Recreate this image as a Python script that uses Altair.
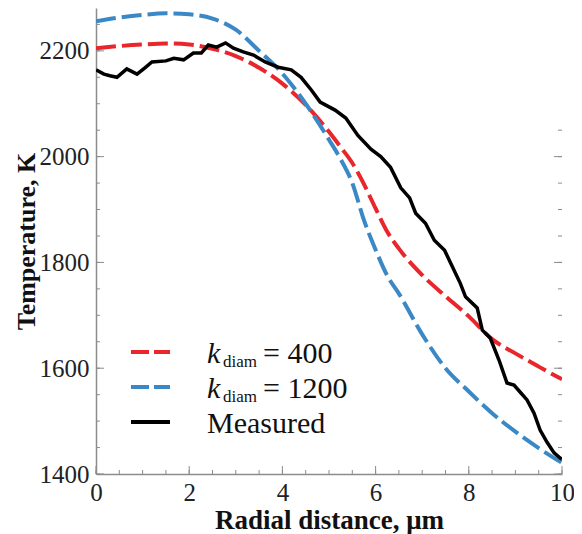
import altair as alt
import pandas as pd

# ---- data ----
k400_x = [0, 0.5, 1.0, 1.5, 2.0, 2.5, 3.0, 3.5, 4.0, 4.5, 5.0, 5.25, 5.5, 5.75, 6.0, 6.25, 6.5, 7.0, 7.5, 8.0, 8.5, 9.0, 9.5, 10]
k400_t = [2205, 2209, 2212, 2214, 2212, 2204, 2190, 2168, 2138, 2098, 2047, 2018, 1988, 1948, 1902, 1858, 1826, 1776, 1736, 1698, 1655, 1628, 1603, 1579]

k1200_x = [0, 0.5, 1.0, 1.5, 2.0, 2.5, 3.0, 3.5, 4.0, 4.5, 5.0, 5.25, 5.5, 5.75, 6.0, 6.25, 6.5, 7.0, 7.5, 8.0, 8.5, 9.0, 9.5, 10]
k1200_t = [2256, 2263, 2268, 2271, 2269, 2261, 2240, 2200, 2157, 2100, 2032, 1995, 1950, 1880, 1824, 1775, 1741, 1664, 1600, 1556, 1515, 1480, 1449, 1421]

meas_x = [0, 0.17, 0.3, 0.45, 0.66, 0.88, 1.05, 1.2, 1.5, 1.67, 1.88, 2.09, 2.26, 2.41, 2.59, 2.78, 2.95,
          3.16, 3.38, 3.63, 3.91, 4.19, 4.4, 4.62, 4.81, 5.13, 5.36, 5.62, 5.9, 6.11, 6.32, 6.54, 6.73,
          6.86, 7.07, 7.26, 7.48, 7.63, 7.82, 7.93, 8.18, 8.29, 8.46, 8.65, 8.82, 8.97, 9.1, 9.25, 9.4,
          9.53, 9.68, 9.83, 9.96, 10]
meas_t = [2164, 2156, 2153, 2150, 2166, 2156, 2168, 2179, 2181, 2186, 2183, 2196, 2196, 2211, 2207, 2215, 2205,
          2198, 2192, 2179, 2169, 2164, 2150, 2126, 2103, 2088, 2073, 2040, 2014, 2000, 1980, 1941, 1922,
          1893, 1874, 1842, 1823, 1795, 1760, 1735, 1714, 1672, 1657, 1615, 1572, 1568, 1555, 1540, 1515,
          1483, 1460, 1440, 1430, 1428]

x_labels = [0, 2, 4, 6, 8, 10]
y_labels = [1400, 1600, 1800, 2000, 2200]
x_minor = [i * 0.5 for i in range(21)]
y_minor = list(range(1400, 2251, 50))
y_right = list(range(1400, 2051, 50))

legend_labels = ["= 400", "= 1200", "Measured"]

W, H = 466, 466
FONT = "Liberation Serif"
RED = "#e8262b"
BLUE = "#3a88c5"
TICK = "#8c8c8c"

xs = alt.Scale(domain=[0, 10], nice=False)
ys = alt.Scale(domain=[1400, 2281], nice=False)

df400 = pd.DataFrame({"x": k400_x, "t": k400_t})
df1200 = pd.DataFrame({"x": k1200_x, "t": k1200_t})
dfm = pd.DataFrame({"x": meas_x, "t": meas_t})

xax = alt.Axis(values=x_labels, ticks=False, grid=False, domainColor=TICK, domainWidth=1.5, format="d",
               labelFlush=False, labelFont=FONT, labelFontSize=25, labelColor="#222", labelPadding=6,
               title="Radial distance, μm", titleFont=FONT, titleFontSize=27, titleFontWeight="bold",
               titleColor="#111", titlePadding=2)
yax = alt.Axis(values=y_labels, ticks=False, grid=False, domainColor=TICK, domainWidth=1.5, format="d",
               labelFlush=False, labelFont=FONT, labelFontSize=25, labelColor="#222", labelPadding=7,
               title="Temperature, K", titleFont=FONT, titleFontSize=26, titleFontWeight="bold",
               titleColor="#111", titlePadding=0)

base_red = alt.Chart(df400).mark_line(color=RED, strokeWidth=4, strokeDash=[20, 6], clip=True,
                                      interpolate="monotone").encode(
    x=alt.X("x:Q", scale=xs, axis=xax), y=alt.Y("t:Q", scale=ys, axis=yax))
blue = alt.Chart(df1200).mark_line(color=BLUE, strokeWidth=4, strokeDash=[20, 6], clip=True,
                                   interpolate="monotone").encode(
    x=alt.X("x:Q", scale=xs), y=alt.Y("t:Q", scale=ys))
meas = alt.Chart(dfm).mark_line(color="black", strokeWidth=3.5, clip=True).encode(
    x=alt.X("x:Q", scale=xs), y=alt.Y("t:Q", scale=ys))

# inward ticks
def xticks(vals, ln):
    return alt.Chart(pd.DataFrame({"v": vals})).mark_rule(color=TICK, strokeWidth=1).encode(
        x=alt.X("v:Q", scale=xs), y=alt.value(H), y2=alt.value(H - ln))

def yticks(vals, ln, right=False):
    x0 = W if right else 0
    x1 = W - ln if right else ln
    return alt.Chart(pd.DataFrame({"v": vals})).mark_rule(color=TICK, strokeWidth=1).encode(
        y=alt.Y("v:Q", scale=ys), x=alt.value(x0), x2=alt.value(x1))

tick_layers = [
    xticks(x_minor, 4), xticks(x_labels, 8),
    yticks(y_minor, 4), yticks(y_labels, 8),
    yticks(y_right, 4, True), yticks([v for v in y_labels if v <= 2050], 8, True),
]

one = pd.DataFrame({"a": [0]})

def leg_line(color, y, dash=None):
    kw = dict(color=color, strokeWidth=4)
    if dash:
        kw["strokeDash"] = dash
    return alt.Chart(one).mark_rule(**kw).encode(x=alt.value(35), x2=alt.value(74), y=alt.value(y))

def txt(s, x, y, size, style="normal"):
    return alt.Chart(one).mark_text(text=s, font=FONT, fontSize=size, fontStyle=style, align="left",
                                    baseline="alphabetic", color="#111").encode(
        x=alt.value(x), y=alt.value(y))

legend_layers = [
    leg_line(RED, 344, [18, 5]), leg_line(BLUE, 379, [18, 5]), leg_line("black", 414),
    txt("k", 111, 355, 30, "italic"), txt("diam", 127, 359, 17), txt(legend_labels[0], 167, 355, 30),
    txt("k", 111, 390, 30, "italic"), txt("diam", 127, 394, 17), txt(legend_labels[1], 167, 390, 30),
    txt(legend_labels[2], 111, 425, 30),
]

chart = alt.layer(base_red, blue, meas, *tick_layers, *legend_layers).properties(
    width=W, height=H,
    autosize=alt.AutoSizeParams(type="none"),
    padding={"left": 88, "top": 0, "right": 12, "bottom": 60},
).configure_view(stroke=None)

chart.save("out.html", embed_options={"renderer": "svg", "actions": False})
